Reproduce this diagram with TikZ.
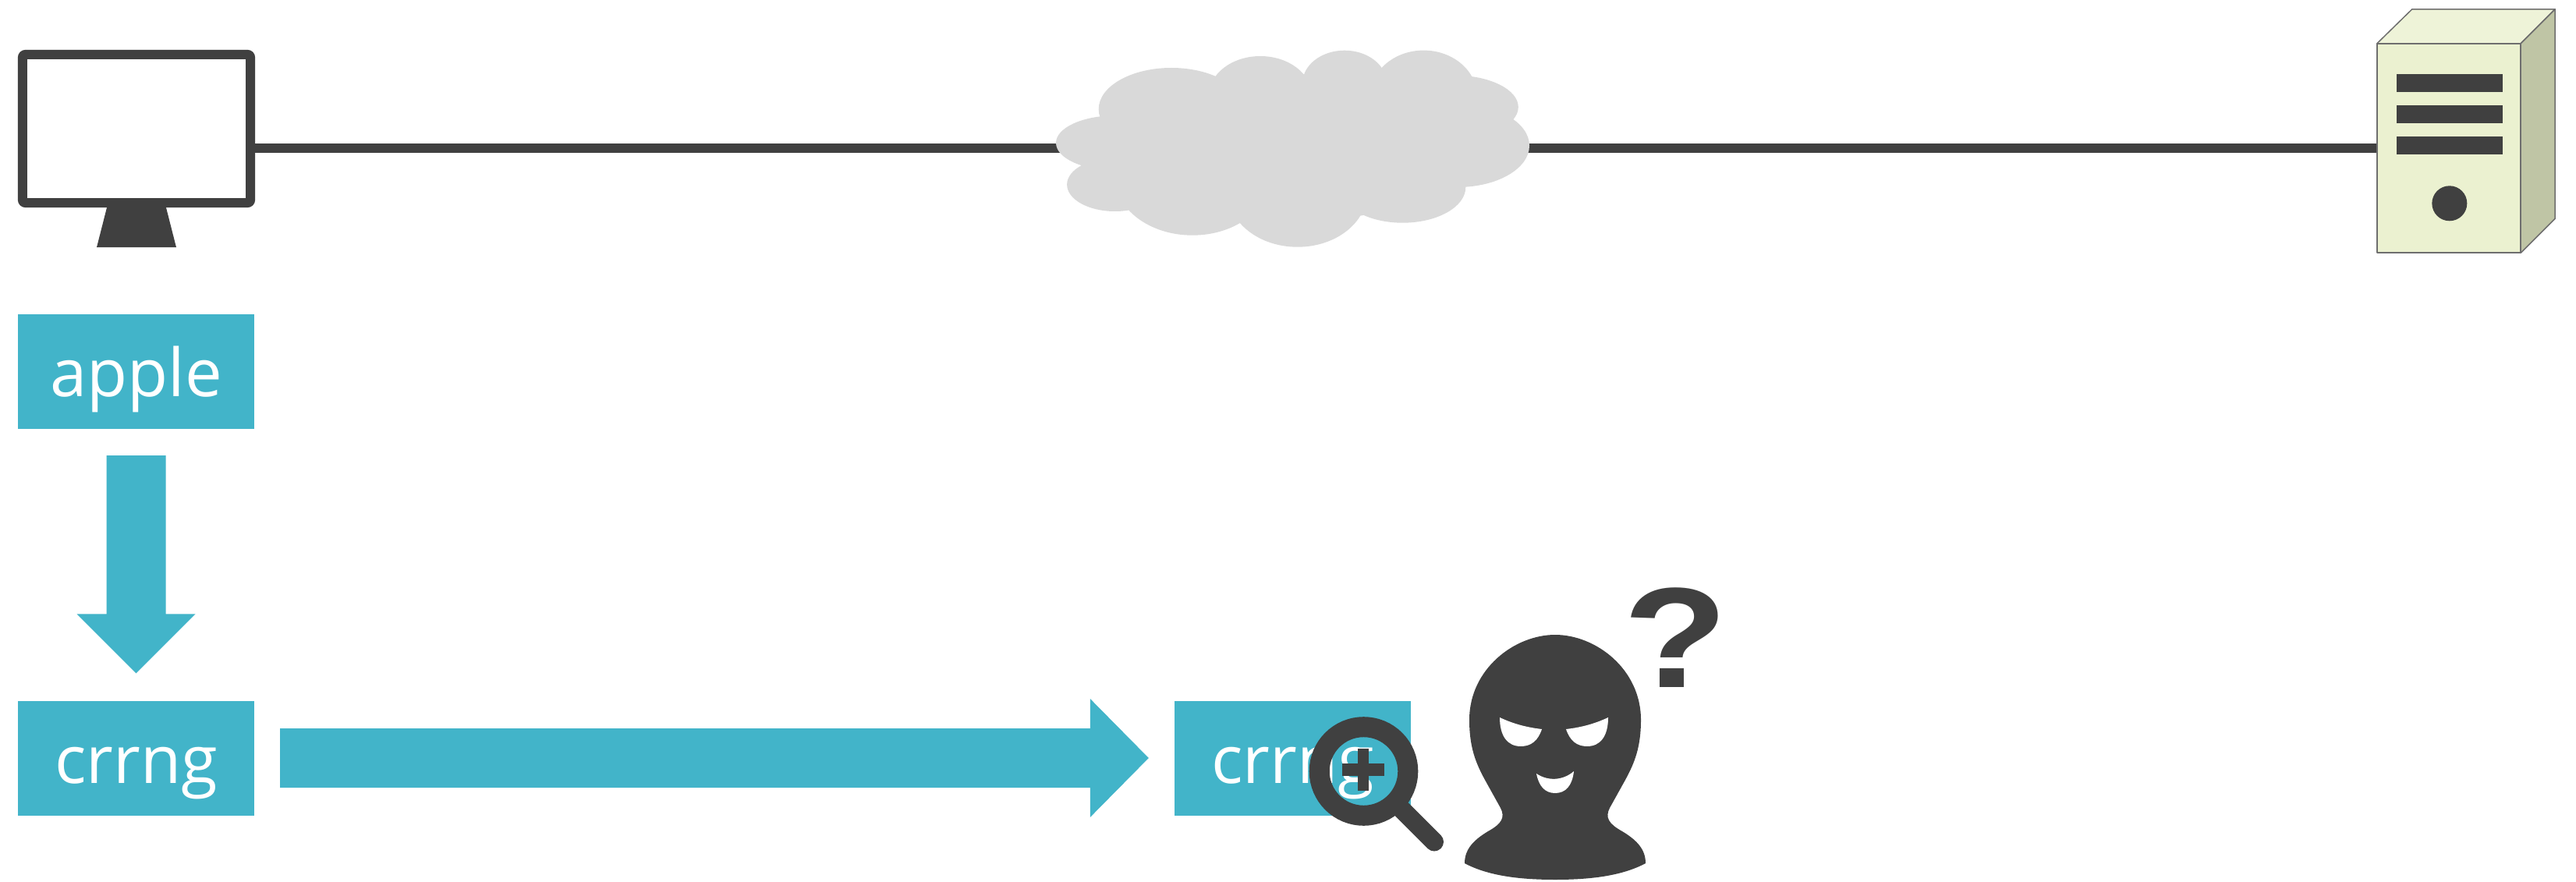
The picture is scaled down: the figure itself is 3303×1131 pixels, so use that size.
\documentclass[tikz,border=0pt]{standalone}
\usepackage{fontspec}
\setmainfont{Open Sans}
\newfontfamily\markfont{Liberation Sans}
\usetikzlibrary{calc}

\definecolor{ink}{HTML}{404040}
\definecolor{aqua}{HTML}{42B4C9}
\definecolor{haze}{HTML}{D9D9D9}
\definecolor{caseface}{HTML}{EBF1D0}
\definecolor{casetop}{HTML}{EEF3D8}
\definecolor{caseside}{HTML}{BFC5A5}
\definecolor{caseedge}{HTML}{6E6E6E}

\begin{document}
\begin{tikzpicture}[x=1pt,y=-1pt,
  wordbox/.style={fill=aqua,text=white,minimum width=303pt,minimum height=147pt,
    inner sep=0pt,text height=74pt,text depth=10pt,font=\fontsize{85}{100}\selectfont},
  wire/.style={draw=ink,line width=12.5pt},
  blockfill/.style={fill=aqua},
  faceedge/.style={draw=caseedge,line width=1.5pt,line join=round}]

\useasboundingbox (0,0) rectangle (3303,1131);
\fill[white] (0,0) rectangle (3303,1131);

% ---- client monitor ----
\node[minimum width=304pt,minimum height=202pt,inner sep=0pt] (monitor) at (175,165) {};
\fill[ink,rounded corners=10pt] (monitor.north west) rectangle (monitor.south east);
\fill[white] ($(monitor.north west)+(12.5,12)$) rectangle ($(monitor.south east)+(-12.5,-12.5)$);
\fill[ink] ($(monitor.south)+(-38,0)$) -- ($(monitor.south)+(38,0)$)
  -- ($(monitor.south)+(51,51)$) -- ($(monitor.south)+(-51,51)$) -- cycle;
\coordinate (pcport) at ($(monitor.east)+(0,25)$);

% ---- server tower ----
\node[minimum width=184pt,minimum height=268pt,inner sep=0pt] (server) at (3140,190) {};

% ---- network line ----
\draw[wire] (pcport) -- (server.west);

% ---- cloud ----
\begin{scope}[haze]
  \fill (1650,190) ellipse [x radius=230pt, y radius=95pt];
  \fill (1502,140) ellipse [x radius=93.3pt, y radius=53pt];
  \fill (1616,123.3) ellipse [x radius=66.3pt, y radius=51.3pt];
  \fill (1724,106.7) ellipse [x radius=53.9pt, y radius=42pt];
  \fill (1825.4,123.3) ellipse [x radius=68.4pt, y radius=58.7pt];
  \fill (1864.8,137.3) ellipse [x radius=82pt, y radius=40.7pt];
  \fill (1869,186.7) ellipse [x radius=92pt, y radius=53.3pt];
  \fill (1798.5,240) ellipse [x radius=80.8pt, y radius=45.7pt];
  \fill (1663.7,246.7) ellipse [x radius=89.1pt, y radius=70pt];
  \fill (1529,226.7) ellipse [x radius=99.5pt, y radius=75pt];
  \fill (1429.5,236.7) ellipse [x radius=61.4pt, y radius=34.3pt];
  \fill (1429.5,183.3) ellipse [x radius=75.5pt, y radius=35pt];
\end{scope}

% server faces
\filldraw[fill=casetop,faceedge] (server.north west) -- ++(45,-44)
  -- ($(server.north east)+(44,-44)$) -- (server.north east) -- cycle;
\filldraw[fill=caseside,faceedge] (server.north east) -- ++(44,-44)
  -- ($(server.south east)+(44,-44)$) -- (server.south east) -- cycle;
\filldraw[fill=caseface,faceedge] (server.north west) rectangle (server.south east);
\fill[ink] ($(server.north west)+(25,39)$) rectangle ++(136,23);
\fill[ink] ($(server.north west)+(25,79)$) rectangle ++(136,23);
\fill[ink] ($(server.north west)+(25,119)$) rectangle ++(136,23);
\fill[ink] ($(server.north west)+(93,205)$) circle [radius=22.5pt];

% ---- word boxes ----
\node[wordbox] (plain) at (174.5,476.5) {apple};
\node[wordbox] (cipher) at (174.5,972) {crrng};
\node[wordbox] (seen) at (1657.5,972) {crrng};

% down block arrow: plain -> cipher
\coordinate (a1) at ($(plain.south)+(0,34)$);
\coordinate (a2) at ($(cipher.north)+(0,-35)$);
\fill[blockfill] ($(a1)+(-38,0)$) -- ($(a1)+(38,0)$) -- ($(a2)+(38,-76)$)
  -- ($(a2)+(76,-76)$) -- (a2) -- ($(a2)+(-76,-76)$) -- ($(a2)+(-38,-76)$) -- cycle;

% right block arrow: cipher -> seen
\coordinate (b1) at ($(cipher.east)+(33,0)$);
\coordinate (b2) at ($(seen.west)+(-33,0)$);
\fill[blockfill] ($(b1)+(0,-38)$) -- ($(b2)+(-75,-38)$) -- ($(b2)+(-75,-76)$)
  -- (b2) -- ($(b2)+(-75,76)$) -- ($(b2)+(-75,38)$) -- ($(b1)+(0,38)$) -- cycle;

% ---- magnifier ----
\coordinate (lens) at (1748.5,989);
\draw[ink,line width=26pt] (lens) circle [radius=56.8pt];
\draw[ink,line width=24pt,line cap=round] ($(lens)+(49.5,49.5)$) -- ($(lens)+(90.5,90.5)$);
\fill[ink] ($(lens)+(-8,-29)$) rectangle ($(lens)+(6,25)$);
\fill[ink] ($(lens)+(-28,-10)$) rectangle ($(lens)+(26.5,6)$);

% ---- masked figure ----
\fill[ink] (1994,814)
  .. controls (2046,814) and (2104,858) .. (2104,923)
  .. controls (2104,958) and (2096,978) .. (2084,1000)
  -- (2064,1036)
  .. controls (2058,1048) and (2062,1056) .. (2080,1066)
  .. controls (2100,1078) and (2110,1090) .. (2110,1107)
  .. controls (2080,1123) and (2040,1128) .. (1994,1128)
  .. controls (1948,1128) and (1908,1123) .. (1878,1107)
  .. controls (1878,1090) and (1888,1078) .. (1908,1066)
  .. controls (1926,1056) and (1930,1048) .. (1924,1036)
  -- (1904,1000)
  .. controls (1892,978) and (1884,958) .. (1884,923)
  .. controls (1884,858) and (1942,814) .. (1994,814) -- cycle;
\fill[white] (1923,920) .. controls (1942,929) and (1960,933) .. (1977,935)
  .. controls (1972,950) and (1963,957) .. (1950,957)
  .. controls (1933,957) and (1923,944) .. (1923,920) -- cycle;
\fill[white] (2062,920) .. controls (2043,929) and (2025,933) .. (2008,935)
  .. controls (2013,950) and (2022,957) .. (2035,957)
  .. controls (2052,957) and (2062,944) .. (2062,920) -- cycle;
\fill[white] (1970,992) .. controls (1985,1002) and (2004,1001) .. (2018,989)
  .. controls (2016,1008) and (2007,1017) .. (1994,1017)
  .. controls (1981,1017) and (1973,1008) .. (1970,992) -- cycle;

\node[anchor=base,inner sep=0pt,xscale=1.2,text=ink,
  font=\markfont\bfseries\fontsize{183}{200}\selectfont] (puzzle) at (2149,881.7) {?};

\end{tikzpicture}
\end{document}
